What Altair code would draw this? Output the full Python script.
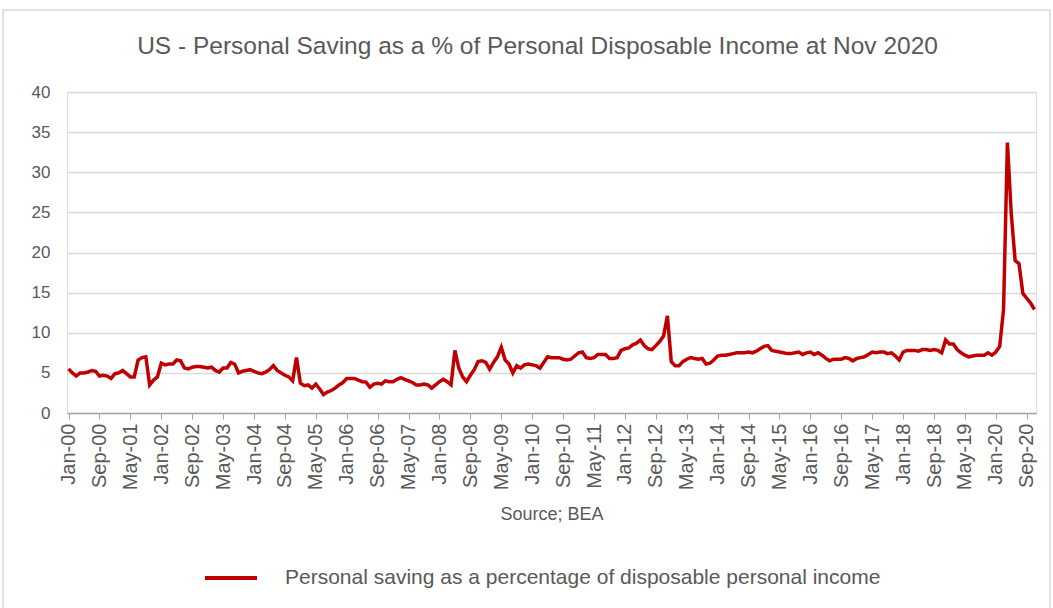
import altair as alt
import pandas as pd

MONTHS = ["Jan", "Feb", "Mar", "Apr", "May", "Jun", "Jul", "Aug", "Sep", "Oct", "Nov", "Dec"]

# Personal saving rate (%), monthly
y2000 = [5.5, 5.0, 4.6, 5.0, 5.0, 5.1, 5.3, 5.2, 4.6, 4.7, 4.6, 4.3]
y2001 = [4.9, 5.0, 5.3, 4.9, 4.5, 4.5, 6.6, 6.9, 7.0, 3.5, 4.1, 4.5]
y2002 = [6.2, 6.0, 6.1, 6.1, 6.6, 6.5, 5.6, 5.5, 5.7, 5.8, 5.8, 5.7]
y2003 = [5.6, 5.7, 5.3, 5.1, 5.6, 5.6, 6.3, 6.1, 5.0, 5.2, 5.3, 5.4]
y2004 = [5.2, 5.0, 4.9, 5.1, 5.4, 5.9, 5.3, 5.0, 4.7, 4.5, 4.0, 6.9]
y2005 = [3.7, 3.4, 3.5, 3.1, 3.6, 3.0, 2.3, 2.6, 2.8, 3.1, 3.5, 3.8]
y2006 = [4.3, 4.3, 4.3, 4.1, 3.9, 3.85, 3.2, 3.6, 3.7, 3.6, 4.0, 3.9]
y2007 = [3.9, 4.2, 4.4, 4.2, 4.0, 3.8, 3.5, 3.5, 3.6, 3.5, 3.1, 3.5]
y2008 = [3.9, 4.2, 3.9, 3.5, 7.8, 5.6, 4.5, 3.9, 4.7, 5.4, 6.4, 6.5]
y2009 = [6.3, 5.45, 6.3, 7.0, 8.2, 6.6, 6.1, 5.0, 5.9, 5.6, 6.0, 6.1]
y2010 = [6.0, 5.9, 5.6, 6.3, 7.0, 6.9, 6.9, 6.9, 6.7, 6.6, 6.7, 7.1]
y2011 = [7.5, 7.6, 6.9, 6.8, 6.9, 7.3, 7.3, 7.3, 6.8, 6.8, 6.9, 7.8]
y2012 = [8.0, 8.1, 8.5, 8.7, 9.1, 8.4, 8.0, 7.9, 8.4, 8.9, 9.6, 12.1]
y2013 = [6.4, 5.9, 5.9, 6.4, 6.7, 6.9, 6.8, 6.7, 6.8, 6.1, 6.2, 6.6]
y2014 = [7.1, 7.2, 7.2, 7.3, 7.4, 7.5, 7.5, 7.5, 7.6, 7.5, 7.7, 8.0]
y2015 = [8.3, 8.4, 7.8, 7.7, 7.6, 7.5, 7.4, 7.4, 7.5, 7.6, 7.3, 7.5]
y2016 = [7.6, 7.3, 7.5, 7.2, 6.8, 6.5, 6.7, 6.7, 6.7, 6.9, 6.8, 6.5]
y2017 = [6.8, 6.9, 7.0, 7.3, 7.6, 7.5, 7.6, 7.6, 7.4, 7.5, 7.1, 6.6]
y2018 = [7.6, 7.8, 7.8, 7.8, 7.7, 7.9, 7.9, 7.8, 7.9, 7.8, 7.5, 9.1]
y2019 = [8.6, 8.6, 7.9, 7.5, 7.2, 7.0, 7.1, 7.2, 7.2, 7.2, 7.5, 7.2]
y2020 = [7.6, 8.3, 12.9, 33.7, 24.8, 19.0, 18.6, 14.9, 14.3, 13.7, 12.9]

years = [y2000, y2001, y2002, y2003, y2004, y2005, y2006, y2007, y2008, y2009, y2010,
         y2011, y2012, y2013, y2014, y2015, y2016, y2017, y2018, y2019, y2020]

tick_labels = ["Jan-00", "Sep-00", "May-01", "Jan-02", "Sep-02", "May-03", "Jan-04", "Sep-04",
               "May-05", "Jan-06", "Sep-06", "May-07", "Jan-08", "Sep-08", "May-09", "Jan-10",
               "Sep-10", "May-11", "Jan-12", "Sep-12", "May-13", "Jan-14", "Sep-14", "May-15",
               "Jan-16", "Sep-16", "May-17", "Jan-18", "Sep-18", "May-19", "Jan-20", "Sep-20"]

SERIES = "Personal saving as a percentage of disposable personal income"

rows = []
for i, vals in enumerate(years):
    for j, v in enumerate(vals):
        rows.append({"month": f"{MONTHS[j]}-{i:02d}", "value": v, "series": SERIES})
df = pd.DataFrame(rows)

TXT = "#595959"
FONT = "Liberation Sans"

line = alt.Chart(df).mark_line(strokeWidth=3.5, clip=False).encode(
    x=alt.X("month:N", sort=None,
            scale=alt.Scale(type="point", padding=0.4),
            axis=alt.Axis(values=tick_labels, labelAngle=270, labelFontSize=20,
                          labelColor=TXT, labelFont=FONT, labelPadding=4,
                          tickSize=6, tickColor="#a6a6a6", domainColor="#a6a6a6",
                          domainWidth=1.5, grid=False,
                          title="Source; BEA", titleFontSize=18, titleFontWeight="normal",
                          titleColor=TXT, titleFont=FONT, titlePadding=16)),
    y=alt.Y("value:Q", scale=alt.Scale(domain=[0, 40]),
            axis=alt.Axis(values=[0, 5, 10, 15, 20, 25, 30, 35, 40], title=None,
                          labelFontSize=17, labelColor=TXT, labelFont=FONT,
                          labelPadding=17, domain=False, ticks=False,
                          gridColor="#d9d9d9", gridWidth=1.5)),
    color=alt.Color("series:N", scale=alt.Scale(range=["#C00000"]),
                    legend=alt.Legend(orient="none", legendX=136, legendY=458, title=None,
                                      symbolType="stroke", symbolStrokeWidth=4,
                                      symbolSize=2704, labelFontSize=21, labelColor=TXT,
                                      labelFont=FONT, labelOffset=26, labelLimit=900)),
)

border_df = pd.DataFrame({"k": [0]})
border = alt.Chart(border_df).mark_rect(fill=None, stroke="#d9d9d9", strokeWidth=1.5,
                                        clip=False).encode(
    x=alt.value(-64), x2=alt.value(983), y=alt.value(-82), y2=alt.value(530)
)

chart = alt.layer(border, line).properties(
    width=969, height=321,
    padding={"left": 67, "top": 92, "right": 17, "bottom": 195},
    autosize=alt.AutoSizeParams(type="none"),
    title=alt.TitleParams("US - Personal Saving as a % of Personal Disposable Income at Nov 2020",
                          fontSize=24.5, font=FONT, color=TXT, fontWeight="normal",
                          anchor="middle", dx=-14, offset=-50),
).configure_view(stroke=None).configure(background="white")

chart.save("out.html", embed_options={"renderer": "svg", "actions": False})
